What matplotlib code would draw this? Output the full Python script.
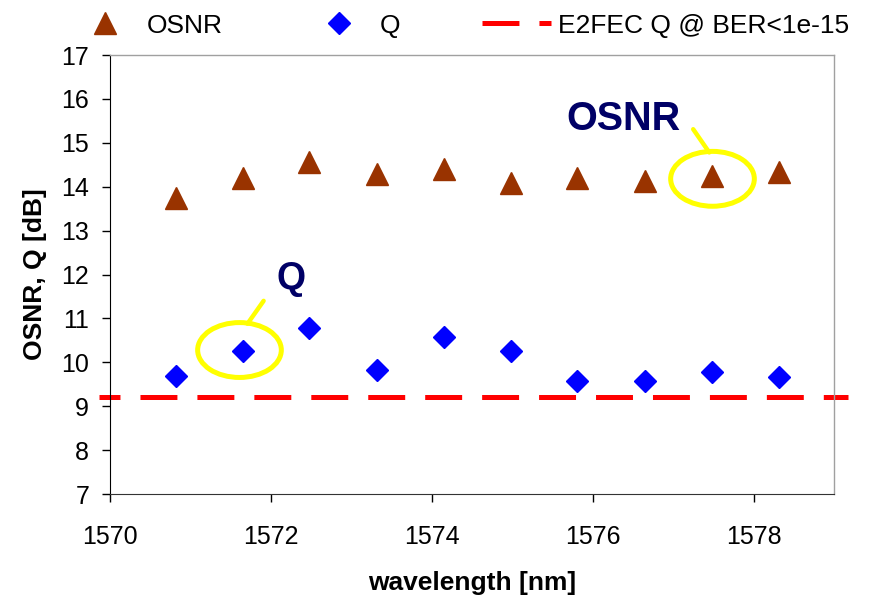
import matplotlib
matplotlib.use("Agg")
import matplotlib.pyplot as plt
from matplotlib.patches import Ellipse
from matplotlib.lines import Line2D

plt.rcParams["font.family"] = ["Liberation Sans", "DejaVu Sans"]
plt.rcParams["lines.scale_dashes"] = False

# Data
wavelength = [1570.82, 1571.65, 1572.48, 1573.32, 1574.15,
              1574.98, 1575.81, 1576.65, 1577.49, 1578.32]
osnr = [13.74, 14.20, 14.57, 14.29, 14.41, 14.09, 14.20, 14.13, 14.24, 14.33]
q_val = [9.69, 10.26, 10.78, 9.82, 10.58, 10.25, 9.57, 9.57, 9.77, 9.66]
fec_limit = 9.2

xticks = [1570, 1572, 1574, 1576, 1578]
yticks = list(range(7, 18))

brown = "#993300"
blue = "#0000ff"
red = "#ff0000"
navy = "#000066"
yellow = "#ffff00"

fig = plt.figure(figsize=(8.84, 5.98), dpi=100)
ax = fig.add_axes([0.1244, 0.1739, 0.819, 0.7341])

ax.plot(wavelength, osnr, linestyle="none", marker="^", ms=16,
        color=brown, mec=brown, label="OSNR")
ax.plot(wavelength, q_val, linestyle="none", marker="D", ms=11.3,
        color=blue, mec=blue, label="Q")
ax.axhline(fec_limit, xmin=-0.0152, xmax=1.019, color=red, lw=3.6,
           linestyle=(11.5, (26.6, 14.4)), clip_on=False,
           label="E2FEC Q @ BER<1e-15")

ax.set_xlim(1570, 1579)
ax.set_ylim(7, 17)
ax.set_xticks(xticks)
ax.set_yticks(yticks)
ax.tick_params(axis="x", direction="out", length=6, width=1, pad=16, labelsize=18)
ax.tick_params(axis="y", direction="out", length=6, width=1, pad=9, labelsize=18)

for side in ["top", "right"]:
    ax.spines[side].set_color("#a0a0a0")
    ax.spines[side].set_linewidth(1)
ax.spines["left"].set_color("black")
ax.spines["bottom"].set_color("#333333")

ax.set_xlabel("wavelength [nm]", fontsize=19, fontweight="bold", labelpad=16)
ax.set_ylabel("OSNR, Q [dB]", fontsize=19, fontweight="bold", labelpad=10)

# Highlight annotations
i_osnr, i_q = 8, 1
ew, eh = 1.04, 1.25
ax.add_patch(Ellipse((wavelength[i_osnr], osnr[i_osnr] - 0.06), ew, eh,
                     fill=False, edgecolor=yellow, lw=3.6, zorder=1))
ax.add_patch(Ellipse((wavelength[i_q] - 0.04, q_val[i_q] + 0.02), ew, eh,
                     fill=False, edgecolor=yellow, lw=3.6, zorder=1))
ax.annotate("", xy=(wavelength[i_osnr] - 0.04, osnr[i_osnr] + 0.54),
            xytext=(wavelength[i_osnr] - 0.24, osnr[i_osnr] + 1.07),
            arrowprops=dict(arrowstyle="-", color=yellow, lw=3.2,
                            shrinkA=0, shrinkB=0))
ax.annotate("", xy=(wavelength[i_q] + 0.06, q_val[i_q] + 0.62),
            xytext=(wavelength[i_q] + 0.26, q_val[i_q] + 1.14),
            arrowprops=dict(arrowstyle="-", color=yellow, lw=3.2,
                            shrinkA=0, shrinkB=0))
ax.text(1576.38, 15.54, "OSNR", color=navy, fontsize=28.5, fontweight="bold",
        ha="center", va="center")
ax.text(1572.25, 11.9, "Q", color=navy, fontsize=27, fontweight="bold",
        ha="center", va="center")

# Legend across the top
handles = [
    Line2D([], [], linestyle="none", marker="^", ms=16, color=brown),
    Line2D([], [], linestyle="none", marker="D", ms=11.3, color=blue),
    Line2D([], [], color=red, lw=3.6, linestyle=(0, (26.6, 14.4))),
]
labels = ["OSNR", "Q", "E2FEC Q @ BER<1e-15"]
fig.legend(handles, labels, loc="center left", bbox_to_anchor=(0.0676, 0.957),
           ncol=3, frameon=False, fontsize=19, handlelength=2.61,
           handletextpad=0.27, columnspacing=3.1, borderaxespad=0)

fig.savefig("out.png", dpi=100)
